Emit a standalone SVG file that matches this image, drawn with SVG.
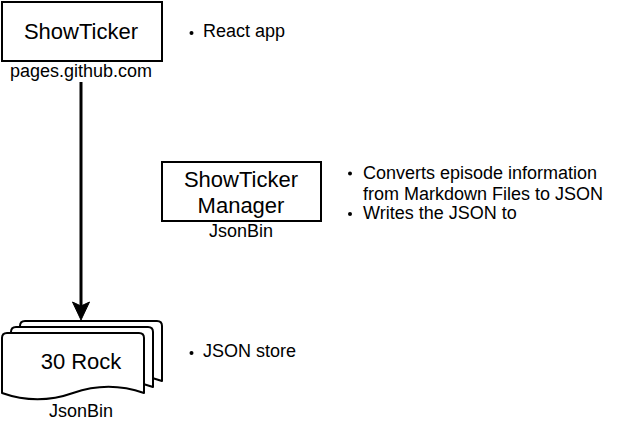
<svg xmlns="http://www.w3.org/2000/svg" width="622" height="422" viewBox="0 0 622 422">
<style>
text{font-family:"Liberation Sans",Arial,sans-serif;fill:#000}
.t{font-size:22px;text-anchor:middle}
.s{font-size:18px;text-anchor:middle}
.b{font-size:18px}
.box{fill:#fff;stroke:#000;stroke-width:2}
.doc{fill:#fff;stroke:#000;stroke-width:2;stroke-linejoin:round}
.dot{fill:#000}
</style>
<defs>
<path id="page" d="M0,5 Q0,0 5,0 H137 Q142,0 142,5 V60 Q106.5,47.4 71,60 Q35.5,72.6 0,60 Z"/>
</defs>
<rect width="622" height="422" fill="#fff"/>
<g id="connectors">
<line x1="81" y1="82" x2="81" y2="306" stroke="#000" stroke-width="3"/>
<polygon points="72.5,302 81,320 89.5,302 81,306" fill="#000" stroke="#000" stroke-width="1"/>
</g>
<g id="showticker">
<rect class="box" x="2" y="2" width="160" height="59"/>
<text class="t" x="81" y="39">ShowTicker</text>
<text class="s" x="81" y="77">pages.github.com</text>
</g>
<g id="showticker-notes">
<circle class="dot" cx="191.5" cy="33" r="2"/>
<text class="b" x="203" y="37">React app</text>
</g>
<g id="manager">
<rect class="box" x="162" y="162" width="159" height="59"/>
<text class="t" x="241" y="186.5">ShowTicker</text>
<text class="t" x="241" y="212.5">Manager</text>
<text class="s" x="241" y="237">JsonBin</text>
</g>
<g id="manager-notes">
<circle class="dot" cx="350" cy="173.5" r="2"/>
<text class="b" x="363" y="179">Converts episode information</text>
<text class="b" x="363" y="199.5">from Markdown Files to JSON</text>
<circle class="dot" cx="350" cy="214" r="2"/>
<text class="b" x="363" y="219">Writes the JSON to</text>
</g>
<g id="rock">
<use href="#page" class="doc" transform="translate(20,321)"/>
<use href="#page" class="doc" transform="translate(11,327)"/>
<use href="#page" class="doc" transform="translate(2,333)"/>
<text class="t" x="81" y="369">30 Rock</text>
<text class="s" x="81" y="417">JsonBin</text>
</g>
<g id="rock-notes">
<circle class="dot" cx="191.5" cy="353" r="2"/>
<text class="b" x="203" y="357">JSON store</text>
</g>
</svg>
